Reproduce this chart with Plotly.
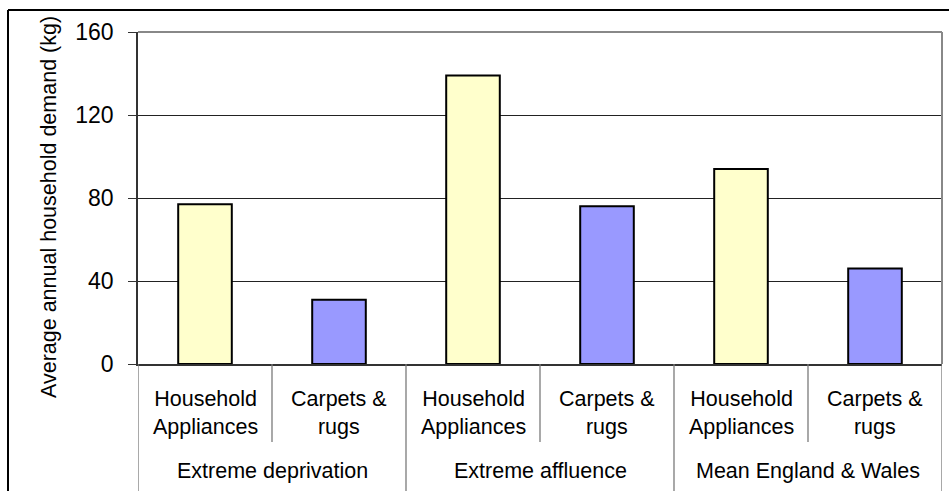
import plotly.graph_objects as go

# Average annual household demand (kg) by area type
groups = ["Extreme deprivation", "Extreme affluence", "Mean England & Wales"]
products = ["Household<br>Appliances", "Carpets &<br>rugs"]
appliances = [77, 139, 94]
carpets = [31, 76, 46]
y_ticks = [0, 40, 80, 120, 160]

W, H = 949, 491
L, R, T, B = 138, 7, 32, 127
PW, PH = W - L - R, H - T - B


def px_x(p):
    """Horizontal pixel -> paper coordinate."""
    return (p - L) / PW


def px_y(p):
    """Vertical pixel (from top) -> paper coordinate."""
    return (H - B - p) / PH


n_prod = len(products)
x_app = [g * n_prod for g in range(len(groups))]
x_car = [g * n_prod + 1 for g in range(len(groups))]
n_cat = len(groups) * n_prod

FONT = "Liberation Sans, Arial, sans-serif"
LABEL_SIZE = 21.5

fig = go.Figure()
fig.add_bar(x=x_app, y=appliances, width=0.4, name="Household Appliances",
            marker=dict(color="#FFFFCC", line=dict(color="#000000", width=2)))
fig.add_bar(x=x_car, y=carpets, width=0.4, name="Carpets & rugs",
            marker=dict(color="#9999FF", line=dict(color="#000000", width=2)))

shapes = []
annotations = []

# category labels and short dividers
for i in range(n_cat):
    annotations.append(dict(x=i, xref="x", y=px_y(413), yref="paper",
                            text=products[i % n_prod], showarrow=False,
                            font=dict(size=LABEL_SIZE, color="#000"), yanchor="middle"))
for i in range(n_cat + 1):
    long_line = i % n_prod == 0
    shapes.append(dict(type="line", xref="x", yref="paper",
                       x0=i - 0.5, x1=i - 0.5, y0=0,
                       y1=px_y(492 if long_line else 442),
                       line=dict(color="#7a7a7a", width=1.3)))

# group labels
for g, name in enumerate(groups):
    annotations.append(dict(x=g * n_prod + 0.5, xref="x", y=px_y(471), yref="paper",
                            text=name, showarrow=False,
                            font=dict(size=LABEL_SIZE, color="#000"), yanchor="middle"))

# axis title
annotations.append(dict(x=px_x(49), xref="paper", y=px_y(207), yref="paper",
                        text="Average annual household demand (kg)", textangle=-90,
                        showarrow=False, font=dict(size=21.5, color="#000"),
                        xanchor="center", yanchor="middle"))

# plot-area top and right edges
shapes.append(dict(type="line", xref="paper", yref="paper", x0=0, x1=1, y0=1, y1=1,
                   line=dict(color="#888888", width=2)))
shapes.append(dict(type="line", xref="paper", yref="paper", x0=1, x1=1, y0=0, y1=1,
                   line=dict(color="#888888", width=2)))

# outer chart frame
shapes.append(dict(type="line", xref="paper", yref="paper",
                   x0=px_x(8), x1=px_x(960), y0=px_y(10), y1=px_y(10),
                   line=dict(color="#000000", width=2)))
shapes.append(dict(type="line", xref="paper", yref="paper",
                   x0=px_x(8), x1=px_x(8), y0=px_y(10), y1=px_y(500),
                   line=dict(color="#000000", width=2)))

fig.update_layout(
    width=W, height=H,
    margin=dict(l=L, r=R, t=T, b=B),
    paper_bgcolor="white", plot_bgcolor="white",
    showlegend=False, barmode="overlay",
    font=dict(family=FONT, size=20, color="#000"),
    shapes=shapes, annotations=annotations,
)
fig.update_xaxes(range=[-0.5, n_cat - 0.5], showticklabels=False, showgrid=False,
                 zeroline=False, showline=True, linecolor="#333333", linewidth=1.5,
                 ticks="")
fig.update_yaxes(range=[0, 160], tickvals=y_ticks, showgrid=True, gridcolor="#222222",
                 gridwidth=1, zeroline=False, showline=True, linecolor="#333333",
                 linewidth=1.5, ticks="outside", ticklen=8, tickcolor="#333333",
                 tickfont=dict(size=23, color="#000"), ticklabelstandoff=10)

fig.write_html("out.html")
